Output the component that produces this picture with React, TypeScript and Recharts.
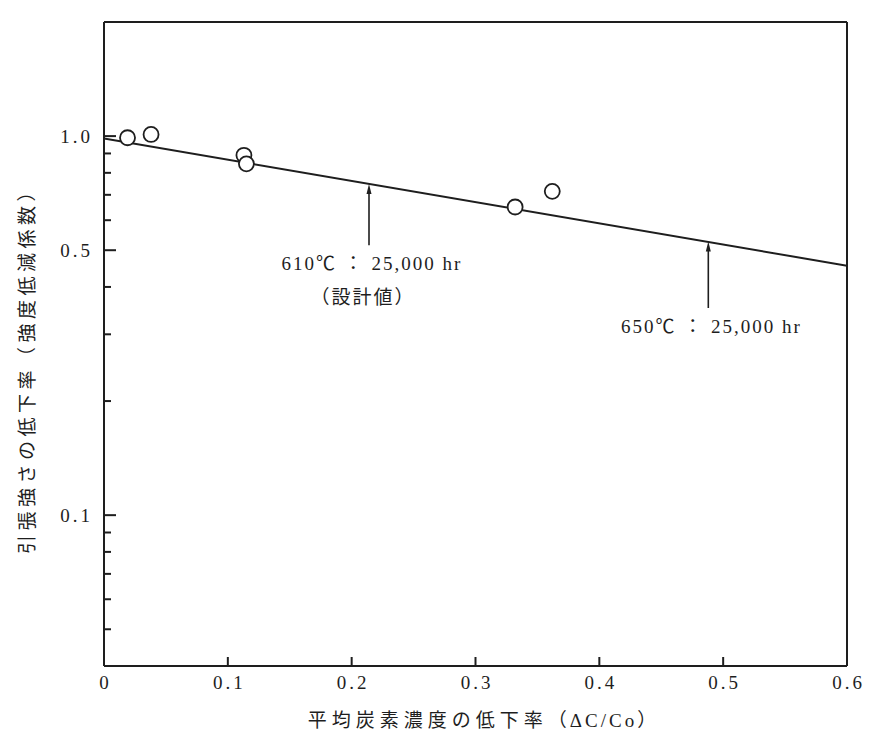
import React from 'react';
import { ComposedChart, Line, Scatter, XAxis, YAxis, ReferenceLine, Label } from 'recharts';

// observed points
const obsX = [0.019, 0.038, 0.113, 0.115, 0.332, 0.362];
const obsY = [0.99, 1.01, 0.89, 0.845, 0.65, 0.715];
// fitted line
const fitX = [0, 0.6];
const fitY = [0.985, 0.455];
// ticks
const xTicks = [0, 0.1, 0.2, 0.3, 0.4, 0.5, 0.6];
const xTickLabels = ['0', '0.1', '0.2', '0.3', '0.4', '0.5', '0.6'];
const yTicks = [0.05, 0.06, 0.07, 0.08, 0.09, 0.1, 0.2, 0.3, 0.4, 0.5, 0.6, 0.7, 0.8, 0.9, 1.0];
const yMajor = [0.1, 0.5, 1.0];
const yMajorLabels = ['0.1', '0.5', '1.0'];
// annotations
const arrowX = [0.214, 0.488];
const arrowTip = [0.748, 0.527];
const arrowBase = [0.515, 0.352];
const arrowText = [['610℃ ： 25,000 hr', '（設計値）'], ['650℃ ： 25,000 hr']];

const xLabel = '平均炭素濃度の低下率';
const xLabelTail = '（ΔC/Co）';
const yLabel = '引張強さの低下率（強度低減係数）';

const INK = '#1e1e1e';
const NUM_FONT = '"Liberation Serif", "DejaVu Serif", serif';
const JP_FONT = '"Liberation Serif", "Noto Sans CJK JP", sans-serif';

const obsData = obsX.map((x, i) => ({ x, y: obsY[i] }));
const fitData = fitX.map((x, i) => ({ x, y: fitY[i] }));

const YTick = (props: any) => {
  const { x, y, payload } = props;
  const i = yMajor.indexOf(payload.value);
  const major = i >= 0;
  return (
    <g>
      <line x1={x} x2={x + (major ? 12 : 7)} y1={y} y2={y} stroke={INK} strokeWidth={2} />
      {major && (
        <text x={x - 11} y={y} dy={7} textAnchor="end" fontFamily={NUM_FONT} fontSize={19} letterSpacing={3} fill={INK}>
          {yMajorLabels[i]}
        </text>
      )}
    </g>
  );
};

const XTick = (props: any) => {
  const { x, y, payload } = props;
  const i = xTicks.indexOf(payload.value);
  const inner = i > 0 && i < xTicks.length - 1;
  return (
    <g>
      {inner && <line x1={x} x2={x} y1={y} y2={y - 9} stroke={INK} strokeWidth={2} />}
      <text x={x + 1.5} y={y + 23} textAnchor="middle" fontFamily={NUM_FONT} fontSize={19} letterSpacing={3} fill={INK}>
        {xTickLabels[i]}
      </text>
    </g>
  );
};

const makeArrow = (k: number) => (props: any) => {
  const { x1, y1, x2, y2 } = props;
  const top = Math.min(y1, y2);
  const bottom = Math.max(y1, y2);
  const x = x1;
  const lines = arrowText[k];
  return (
    <g>
      <line x1={x} x2={x} y1={top + 6} y2={bottom} stroke={INK} strokeWidth={1.6} />
      <polygon points={`${x},${top} ${x - 2.5},${top + 10} ${x + 2.5},${top + 10}`} fill={INK} />
      {lines.map((t, j) => (
        <text
          key={j}
          x={x + (j === 0 ? 3 : -6)}
          y={bottom + 25 + j * 34}
          textAnchor="middle"
          fontFamily={JP_FONT}
          fontSize={19}
          letterSpacing={2}
          fill={INK}
        >
          {t}
        </text>
      ))}
    </g>
  );
};

const Dot = (props: any) => {
  const { cx, cy } = props;
  return <circle cx={cx} cy={cy} r={7.5} fill="#fff" stroke={INK} strokeWidth={1.8} />;
};

export default function App() {
  return (
    <div style={{ background: '#fff', width: 860, height: 722 }}>
      <ComposedChart width={860} height={722} margin={{ top: 14, right: 21, bottom: 0, left: 0 }}>
        <XAxis
          type="number"
          dataKey="x"
          domain={[0, 0.6]}
          ticks={xTicks}
          allowDataOverflow
          height={64}
          tickSize={0}
          tickMargin={0}
          tickLine={false}
          axisLine={{ stroke: INK, strokeWidth: 2 }}
          tick={<XTick />}
          interval={0}
        >
          <Label
            content={(p: any) => {
              const vb = p.viewBox;
              return (
                <text x={vb.x + vb.width / 2 + 8} y={vb.y + 61} textAnchor="middle" fontFamily={JP_FONT} fontSize={19} fill={INK}>
                  <tspan letterSpacing={5}>{xLabel}</tspan>
                  <tspan letterSpacing={3}>{xLabelTail}</tspan>
                </text>
              );
            }}
          />
        </XAxis>
        <YAxis
          type="number"
          dataKey="y"
          scale="log"
          domain={[0.04, 2]}
          ticks={yTicks}
          allowDataOverflow
          width={96}
          tickSize={0}
          tickMargin={0}
          tickLine={false}
          axisLine={{ stroke: INK, strokeWidth: 2 }}
          tick={<YTick />}
          interval={0}
        >
          <Label
            content={(p: any) => {
              const vb = p.viewBox;
              const cx = vb.x + 19;
              const cy = vb.y + vb.height / 2 + 22;
              return (
                <text
                  x={cx}
                  y={cy}
                  transform={`rotate(-90 ${cx} ${cy})`}
                  textAnchor="middle"
                  dominantBaseline="central"
                  fontFamily={JP_FONT}
                  fontSize={19}
                  letterSpacing={4.5}
                  fill={INK}
                >
                  {yLabel}
                </text>
              );
            }}
          />
        </YAxis>
        <ReferenceLine y={2} stroke={INK} strokeWidth={2} ifOverflow="extendDomain" />
        <ReferenceLine x={0.6} stroke={INK} strokeWidth={2} ifOverflow="extendDomain" />
        {arrowX.map((ax, k) => (
          <ReferenceLine
            key={k}
            segment={[{ x: ax, y: arrowBase[k] }, { x: ax, y: arrowTip[k] }]}
            shape={makeArrow(k)}
            ifOverflow="visible"
          />
        ))}
        <Line data={fitData} dataKey="y" stroke={INK} strokeWidth={2} dot={false} isAnimationActive={false} />
        <Scatter data={obsData} dataKey="y" shape={<Dot />} isAnimationActive={false} />
      </ComposedChart>
    </div>
  );
}
